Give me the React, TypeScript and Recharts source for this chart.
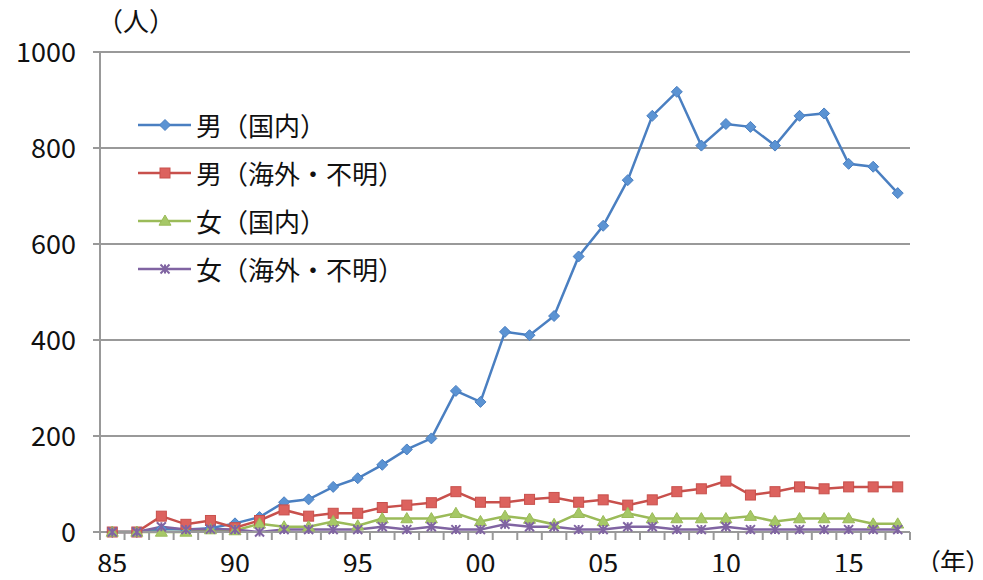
import React from "react";
import { LineChart, Line, XAxis, YAxis, CartesianGrid } from "recharts";

const years = [
  "85", "86", "87", "88", "89", "90", "91", "92", "93", "94", "95",
  "96", "97", "98", "99", "00", "01", "02", "03", "04", "05", "06",
  "07", "08", "09", "10", "11", "12", "13", "14", "15", "16", "17",
];
const labeledYears = ["85", "90", "95", "00", "05", "10", "15"];

const maleDomestic = [
  0, 0, 6, 5, 8, 18, 31, 62, 68, 94, 112, 140, 172, 195, 294, 271, 417,
  410, 450, 574, 638, 733, 867, 917, 805, 850, 844, 805, 867, 872, 767, 761, 706,
];
const maleOverseas = [
  0, 0, 33, 16, 24, 9, 24, 46, 33, 39, 39, 51, 56, 61, 84, 62, 62,
  68, 72, 62, 67, 56, 67, 84, 90, 106, 77, 84, 94, 90, 94, 94, 94,
];
const femaleDomestic = [
  0, 0, 0, 0, 5, 3, 17, 11, 11, 22, 13, 28, 28, 28, 39, 22, 33,
  27, 16, 39, 22, 39, 28, 28, 28, 28, 33, 22, 28, 28, 28, 17, 17,
];
const femaleOverseas = [
  0, 0, 11, 5, 6, 5, 0, 5, 5, 5, 5, 11, 5, 11, 5, 5, 16,
  11, 11, 5, 5, 11, 11, 5, 5, 11, 5, 5, 5, 5, 5, 5, 5,
];
const yTicks = [0, 200, 400, 600, 800, 1000];

const series = [
  { key: "md", name: "男（国内）", color: "#4A7FC1", fill: "#5B93D3", shape: "diamond" },
  { key: "mo", name: "男（海外・不明）", color: "#C8504C", fill: "#DC625E", shape: "square" },
  { key: "fd", name: "女（国内）", color: "#9BBB59", fill: "#A6C867", shape: "triangle" },
  { key: "fo", name: "女（海外・不明）", color: "#8064A2", fill: "#9C84BE", shape: "cross" },
];

const data = years.map((year, i) => ({
  year,
  md: maleDomestic[i],
  mo: maleOverseas[i],
  fd: femaleDomestic[i],
  fo: femaleOverseas[i],
}));

const FONT = "'Noto Sans CJK JP', 'Noto Sans', sans-serif";
const PLOT_LEFT = 100;
const PLOT_RIGHT = 910;
const BAND = (PLOT_RIGHT - PLOT_LEFT) / years.length;

function Marker({ cx, cy, shape, color, fill }: any) {
  if (cx == null || cy == null) return null;
  if (shape === "diamond") {
    const r = 5.5;
    return (
      <path
        d={`M${cx},${cy - r}L${cx + r},${cy}L${cx},${cy + r}L${cx - r},${cy}Z`}
        fill={fill}
        stroke={color}
        strokeWidth={1}
      />
    );
  }
  if (shape === "square") {
    const r = 5;
    return <rect x={cx - r} y={cy - r} width={2 * r} height={2 * r} fill={fill} stroke={color} strokeWidth={1} />;
  }
  if (shape === "triangle") {
    const r = 6;
    return (
      <path
        d={`M${cx},${cy - r}L${cx + r},${cy + r * 0.7}L${cx - r},${cy + r * 0.7}Z`}
        fill={fill}
        stroke={color}
        strokeWidth={1}
      />
    );
  }
  const r = 4.5;
  return (
    <path
      d={`M${cx - r},${cy - r}L${cx + r},${cy + r}M${cx + r},${cy - r}L${cx - r},${cy + r}M${cx},${cy - r}L${cx},${cy + r}`}
      stroke={color}
      strokeWidth={2}
      fill="none"
    />
  );
}

function XTick({ x, y, payload, index }: any) {
  const last = index === years.length - 1;
  const lx = x - BAND / 2;
  return (
    <g>
      <line x1={lx} y1={y - 8} x2={lx} y2={y} stroke="#999" strokeWidth={2} />
      {last && <line x1={x + BAND / 2} y1={y - 8} x2={x + BAND / 2} y2={y} stroke="#999" strokeWidth={2} />}
      {labeledYears.includes(payload.value) && (
        <text x={x} y={y + 23} dy="0.355em" textAnchor="middle" fontSize={27} fontFamily={FONT} fill="#111">
          {payload.value}
        </text>
      )}
    </g>
  );
}

function LegendBox() {
  return (
    <div style={{ position: "absolute", left: 138, top: 101, fontFamily: FONT, fontSize: 26, color: "#111" }}>
      {series.map((s) => (
        <div key={s.key} style={{ display: "flex", alignItems: "center", height: 48 }}>
          <svg width={58} height={20} style={{ display: "block" }}>
            <line x1={0} y1={10} x2={53} y2={10} stroke={s.color} strokeWidth={2.5} />
            <Marker cx={27} cy={10} shape={s.shape} color={s.color} fill={s.fill} />
          </svg>
          <span style={{ lineHeight: "48px", whiteSpace: "nowrap" }}>{s.name}</span>
        </div>
      ))}
    </div>
  );
}

export default function App() {
  return (
    <div style={{ position: "relative", width: 983, height: 580, margin: -8, background: "#fff" }}>
      <LineChart
        width={983}
        height={580}
        data={data}
        margin={{ top: 52, right: 983 - PLOT_RIGHT, bottom: 0, left: 0 }}
      >
        <CartesianGrid vertical={false} stroke="#999" strokeWidth={2} />
        <XAxis
          dataKey="year"
          height={48}
          interval={0}
          padding={{ left: BAND / 2, right: BAND / 2 }}
          tickLine={false}
          tickSize={8}
          tickMargin={0}
          axisLine={{ stroke: "#999", strokeWidth: 2 }}
          tick={<XTick />}
        />
        <YAxis
          width={PLOT_LEFT}
          domain={[0, 1000]}
          ticks={yTicks}
          interval={0}
          tickSize={7}
          tickMargin={17}
          axisLine={{ stroke: "#999", strokeWidth: 2 }}
          tickLine={{ stroke: "#999", strokeWidth: 2 }}
          tick={{ fontSize: 27, fontFamily: FONT, fill: "#111" }}
        />
        {series.map((s) => (
          <Line
            key={s.key}
            dataKey={s.key}
            name={s.name}
            type="linear"
            stroke={s.color}
            strokeWidth={2.5}
            isAnimationActive={false}
            dot={(p: any) => <Marker key={`${s.key}-${p.index}`} cx={p.cx} cy={p.cy} shape={s.shape} color={s.color} fill={s.fill} />}
            activeDot={false}
          />
        ))}
      </LineChart>
      <LegendBox />
      <svg width={983} height={580} style={{ position: "absolute", left: 0, top: 0, pointerEvents: "none" }}>
        <text x={97} y={22} dy="0.355em" fontSize={26} fontFamily={FONT} fill="#111">（人）</text>
        <text
          x={927}
          y={563}
          dy="0.355em"
          fontSize={26}
          fontFamily={FONT}
          fill="#111"
          style={{ fontFeatureSettings: '"palt"' }}
        >
          （年）
        </text>
      </svg>
    </div>
  );
}
